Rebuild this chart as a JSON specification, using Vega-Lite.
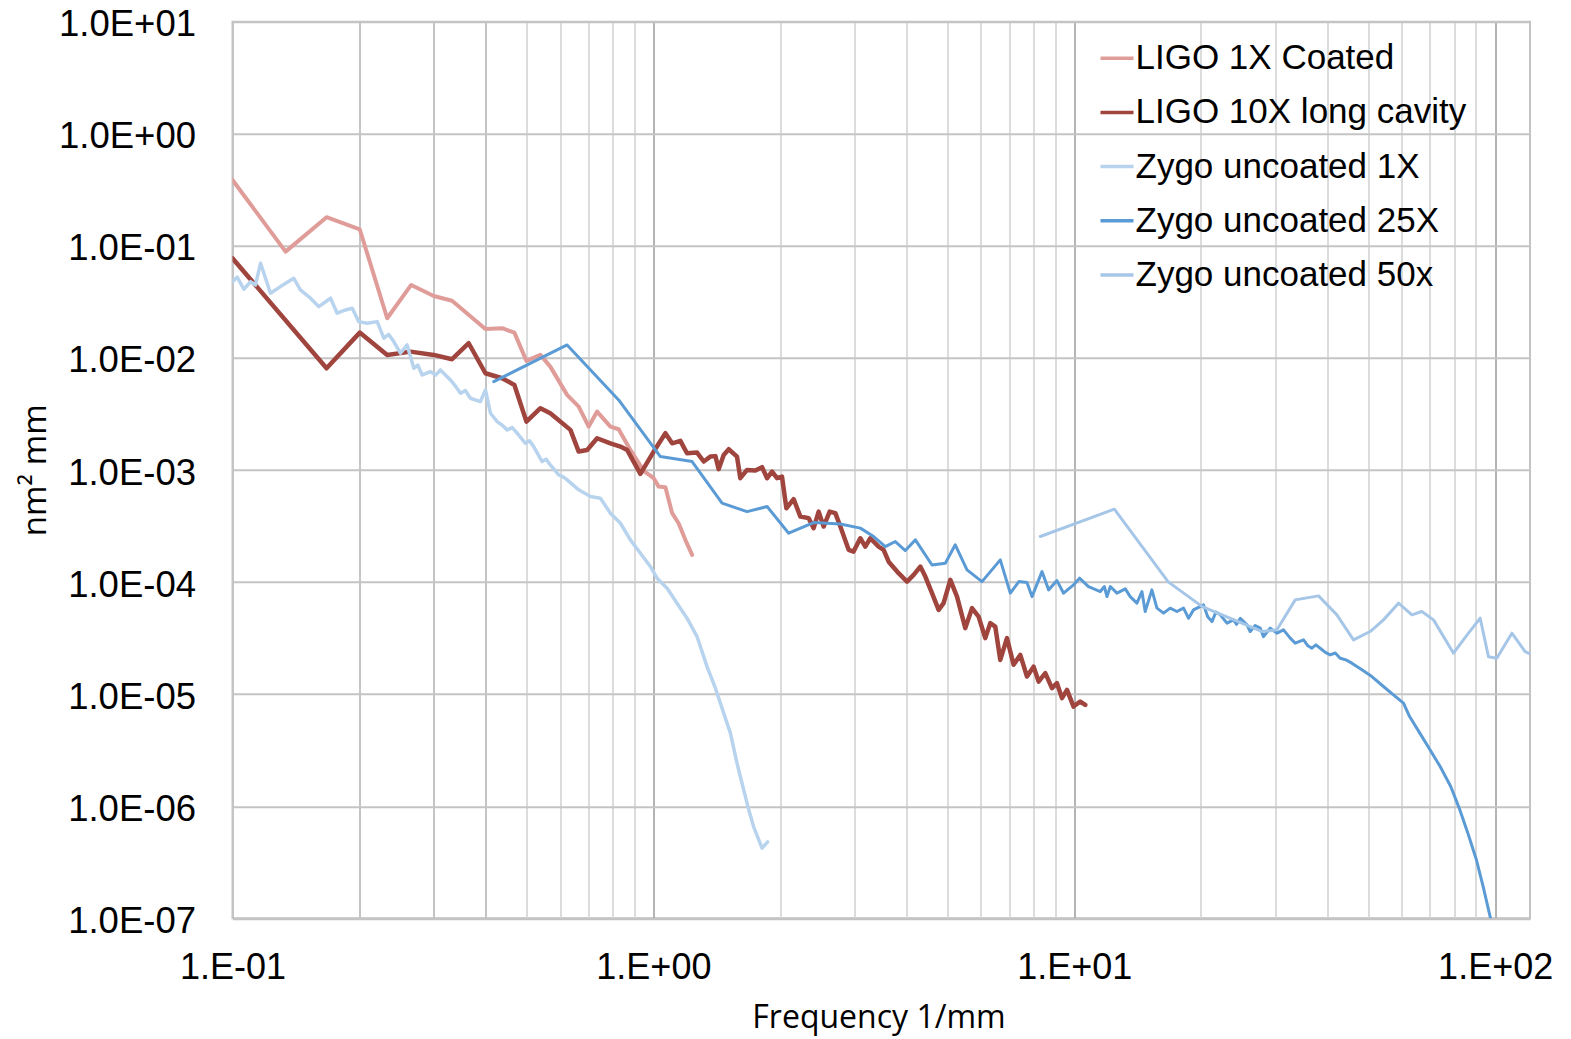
{
  "$schema": "https://vega.github.io/schema/vega-lite/v6.json",
  "width": 1297.5,
  "height": 896.6,
  "autosize": {"type": "none"},
  "padding": {"left": 232.5, "top": 21.7, "right": 41, "bottom": 120.7},
  "background": "white",
  "config": {
    "view": {"stroke": "#c4c4c4", "strokeWidth": 2},
    "font": "Liberation Sans",
    "legend": {
      "orient": "none",
      "legendX": 866,
      "legendY": 18,
      "padding": 0,
      "symbolType": "stroke",
      "symbolSize": 1089,
      "symbolStrokeWidth": 3.5,
      "labelFont": "Liberation Sans",
      "labelFontSize": 35,
      "labelColor": "black",
      "labelOffset": 0,
      "labelLimit": 600,
      "rowPadding": 17.2
    }
  },
  "datasets": {
    "ligo1x": [
      {"x": 0.1, "y": 0.387}, {"x": 0.1337, "y": 0.0888}, {"x": 0.1673, "y": 0.18}, {"x": 0.2006, "y": 0.1406},
      {"x": 0.2331, "y": 0.0226}, {"x": 0.2658, "y": 0.0448}, {"x": 0.3007, "y": 0.0357}, {"x": 0.3324, "y": 0.0324},
      {"x": 0.399, "y": 0.01814}, {"x": 0.4372, "y": 0.01841}, {"x": 0.4675, "y": 0.01682}, {"x": 0.4993, "y": 0.0094},
      {"x": 0.539, "y": 0.01064}, {"x": 0.569, "y": 0.00836}, {"x": 0.6237, "y": 0.00468}, {"x": 0.6646, "y": 0.00368},
      {"x": 0.7021, "y": 0.00244}, {"x": 0.735, "y": 0.00332}, {"x": 0.7904, "y": 0.00244}, {"x": 0.827, "y": 0.00231},
      {"x": 0.8818, "y": 0.00151}, {"x": 0.9483, "y": 0.000982}, {"x": 1.0016, "y": 0.000845}, {"x": 1.0294, "y": 0.000711},
      {"x": 1.068, "y": 0.000703}, {"x": 1.108, "y": 0.000412}, {"x": 1.148, "y": 0.000335}, {"x": 1.191, "y": 0.000238},
      {"x": 1.236, "y": 0.000175}
    ],
    "ligo10x": [
      {"x": 0.1, "y": 0.0775}, {"x": 0.1673, "y": 0.00809}, {"x": 0.2006, "y": 0.01682}, {"x": 0.2331, "y": 0.01064},
      {"x": 0.2648, "y": 0.01138}, {"x": 0.3007, "y": 0.01064}, {"x": 0.3324, "y": 0.00974}, {"x": 0.3641, "y": 0.01352},
      {"x": 0.399, "y": 0.0073}, {"x": 0.4372, "y": 0.00659}, {"x": 0.4675, "y": 0.00574}, {"x": 0.4993, "y": 0.0027},
      {"x": 0.539, "y": 0.00356}, {"x": 0.569, "y": 0.00321}, {"x": 0.6351, "y": 0.00228}, {"x": 0.6646, "y": 0.00146},
      {"x": 0.6961, "y": 0.00151}, {"x": 0.735, "y": 0.00192}, {"x": 0.7904, "y": 0.00173}, {"x": 0.835, "y": 0.00162},
      {"x": 0.866, "y": 0.00151}, {"x": 0.9314, "y": 0.000923}, {"x": 1.0016, "y": 0.00146}, {"x": 1.068, "y": 0.00213},
      {"x": 1.108, "y": 0.00173}, {"x": 1.159, "y": 0.00182}, {"x": 1.202, "y": 0.00141}, {"x": 1.27, "y": 0.00143},
      {"x": 1.317, "y": 0.00119}, {"x": 1.366, "y": 0.001317}, {"x": 1.404, "y": 0.00133}, {"x": 1.429, "y": 0.001017},
      {"x": 1.469, "y": 0.001364}, {"x": 1.51, "y": 0.001533}, {"x": 1.58, "y": 0.001317}, {"x": 1.609, "y": 0.000845},
      {"x": 1.669, "y": 0.001002}, {"x": 1.747, "y": 0.000988}, {"x": 1.812, "y": 0.001059}, {"x": 1.863, "y": 0.000845},
      {"x": 1.914, "y": 0.000968}, {"x": 1.967, "y": 0.000845}, {"x": 2.021, "y": 0.000873}, {"x": 2.07, "y": 0.000456},
      {"x": 2.154, "y": 0.000549}, {"x": 2.235, "y": 0.000384}, {"x": 2.338, "y": 0.000372}, {"x": 2.403, "y": 0.000303},
      {"x": 2.47, "y": 0.000425}, {"x": 2.538, "y": 0.000313}, {"x": 2.623, "y": 0.000425}, {"x": 2.706, "y": 0.000412},
      {"x": 2.781, "y": 0.000313}, {"x": 2.91, "y": 0.000194}, {"x": 2.99, "y": 0.000187}, {"x": 3.102, "y": 0.000246},
      {"x": 3.188, "y": 0.000207}, {"x": 3.276, "y": 0.000246}, {"x": 3.429, "y": 0.000207}, {"x": 3.524, "y": 0.000194},
      {"x": 3.622, "y": 0.000152}, {"x": 3.825, "y": 0.00012}, {"x": 4.005, "y": 0.000101}, {"x": 4.153, "y": 0.000116},
      {"x": 4.307, "y": 0.0001375}, {"x": 4.427, "y": 0.000112}, {"x": 4.592, "y": 7.96e-5}, {"x": 4.761, "y": 5.65e-5},
      {"x": 4.892, "y": 6.48e-5}, {"x": 5.076, "y": 0.0001046}, {"x": 5.265, "y": 7.42e-5}, {"x": 5.509, "y": 3.88e-5},
      {"x": 5.715, "y": 5.85e-5}, {"x": 5.925, "y": 4.92e-5}, {"x": 6.145, "y": 3.16e-5}, {"x": 6.316, "y": 4.3e-5},
      {"x": 6.491, "y": 4.01e-5}, {"x": 6.671, "y": 2.02e-5}, {"x": 6.92, "y": 3.16e-5}, {"x": 7.175, "y": 1.83e-5},
      {"x": 7.442, "y": 2.24e-5}, {"x": 7.72, "y": 1.436e-5}, {"x": 8.005, "y": 1.76e-5}, {"x": 8.227, "y": 1.295e-5},
      {"x": 8.534, "y": 1.54e-5}, {"x": 8.851, "y": 1.13e-5}, {"x": 9.097, "y": 1.253e-5}, {"x": 9.35, "y": 9.21e-6},
      {"x": 9.61, "y": 1.092e-5}, {"x": 9.96, "y": 7.75e-6}, {"x": 10.33, "y": 8.59e-6}, {"x": 10.62, "y": 8.02e-6}
    ],
    "zygo1x": [
      {"x": 0.1, "y": 0.0479}, {"x": 0.1026, "y": 0.0525}, {"x": 0.1064, "y": 0.041}, {"x": 0.1104, "y": 0.0479},
      {"x": 0.1134, "y": 0.0448}, {"x": 0.1166, "y": 0.07}, {"x": 0.1231, "y": 0.0378}, {"x": 0.13, "y": 0.0433},
      {"x": 0.1398, "y": 0.0514}, {"x": 0.145, "y": 0.0404}, {"x": 0.1532, "y": 0.0341}, {"x": 0.1603, "y": 0.0287},
      {"x": 0.171, "y": 0.0341}, {"x": 0.1773, "y": 0.02505}, {"x": 0.1856, "y": 0.0268}, {"x": 0.1925, "y": 0.02776},
      {"x": 0.1995, "y": 0.02108}, {"x": 0.2089, "y": 0.0204}, {"x": 0.2207, "y": 0.02108}, {"x": 0.2288, "y": 0.015},
      {"x": 0.2351, "y": 0.0162}, {"x": 0.2416, "y": 0.01398}, {"x": 0.2506, "y": 0.01101}, {"x": 0.26, "y": 0.01306},
      {"x": 0.2696, "y": 0.00809}, {"x": 0.2756, "y": 0.00862}, {"x": 0.2823, "y": 0.00705}, {"x": 0.2954, "y": 0.00755},
      {"x": 0.3036, "y": 0.00702}, {"x": 0.3119, "y": 0.00781}, {"x": 0.3295, "y": 0.00636}, {"x": 0.3385, "y": 0.00561},
      {"x": 0.3481, "y": 0.00484}, {"x": 0.3575, "y": 0.00512}, {"x": 0.3675, "y": 0.00437}, {"x": 0.3882, "y": 0.00408},
      {"x": 0.399, "y": 0.00518}, {"x": 0.4101, "y": 0.00321}, {"x": 0.4254, "y": 0.0027}, {"x": 0.4374, "y": 0.00251},
      {"x": 0.4494, "y": 0.00228}, {"x": 0.462, "y": 0.00239}, {"x": 0.4745, "y": 0.00213}, {"x": 0.4966, "y": 0.00173},
      {"x": 0.508, "y": 0.00182}, {"x": 0.5196, "y": 0.00162}, {"x": 0.5441, "y": 0.00119}, {"x": 0.556, "y": 0.00125},
      {"x": 0.569, "y": 0.00111}, {"x": 0.5957, "y": 0.000904}, {"x": 0.6094, "y": 0.000872}, {"x": 0.6237, "y": 0.000816},
      {"x": 0.6646, "y": 0.000665}, {"x": 0.7087, "y": 0.000579}, {"x": 0.7484, "y": 0.00056}, {"x": 0.7904, "y": 0.000412},
      {"x": 0.835, "y": 0.000335}, {"x": 0.8818, "y": 0.000238}, {"x": 0.9314, "y": 0.000181}, {"x": 0.9837, "y": 0.0001375},
      {"x": 1.0205, "y": 0.0001083}, {"x": 1.078, "y": 8.82e-5}, {"x": 1.138, "y": 6.48e-5}, {"x": 1.202, "y": 4.76e-5},
      {"x": 1.27, "y": 3.26e-5}, {"x": 1.293, "y": 2.66e-5}, {"x": 1.341, "y": 1.76e-5}, {"x": 1.404, "y": 1.13e-5},
      {"x": 1.469, "y": 6.77e-6}, {"x": 1.524, "y": 4.49e-6}, {"x": 1.58, "y": 2.42e-6}, {"x": 1.639, "y": 1.4e-6},
      {"x": 1.685, "y": 9.29e-7}, {"x": 1.73, "y": 6.59e-7}, {"x": 1.812, "y": 4.23e-7}, {"x": 1.868, "y": 4.81e-7}
    ],
    "zygo25x": [
      {"x": 0.4175, "y": 0.00615}, {"x": 0.6237, "y": 0.01306}, {"x": 0.827, "y": 0.00422}, {"x": 1.039, "y": 0.001317},
      {"x": 1.236, "y": 0.00119}, {"x": 1.456, "y": 0.000506}, {"x": 1.669, "y": 0.000425}, {"x": 1.863, "y": 0.000472},
      {"x": 2.096, "y": 0.000273}, {"x": 2.403, "y": 0.00034}, {"x": 2.781, "y": 0.00033}, {"x": 3.102, "y": 0.000303},
      {"x": 3.337, "y": 0.000255}, {"x": 3.557, "y": 0.000207}, {"x": 3.757, "y": 0.00023}, {"x": 3.968, "y": 0.000191},
      {"x": 4.193, "y": 0.000238}, {"x": 4.592, "y": 0.000142}, {"x": 4.939, "y": 0.0001474}, {"x": 5.215, "y": 0.000215},
      {"x": 5.561, "y": 0.0001285}, {"x": 6.036, "y": 0.000101}, {"x": 6.671, "y": 0.0001578}, {"x": 7.047, "y": 7.96e-5},
      {"x": 7.386, "y": 0.000101}, {"x": 7.72, "y": 9.9e-5}, {"x": 7.935, "y": 7.42e-5}, {"x": 8.382, "y": 0.000124},
      {"x": 8.69, "y": 8.52e-5}, {"x": 9.097, "y": 0.0001031}, {"x": 9.432, "y": 7.96e-5}, {"x": 9.96, "y": 9.44e-5},
      {"x": 10.29, "y": 0.0001083}, {"x": 10.81, "y": 9.12e-5}, {"x": 11.53, "y": 8.23e-5}, {"x": 11.79, "y": 9.12e-5},
      {"x": 11.96, "y": 7.42e-5}, {"x": 12.18, "y": 9.12e-5}, {"x": 12.63, "y": 7.96e-5}, {"x": 13.22, "y": 8.7e-5},
      {"x": 13.58, "y": 7.42e-5}, {"x": 14.09, "y": 6.48e-5}, {"x": 14.48, "y": 8.23e-5}, {"x": 14.74, "y": 5.46e-5},
      {"x": 15.29, "y": 8.52e-5}, {"x": 15.72, "y": 5.85e-5}, {"x": 16.3, "y": 5.28e-5}, {"x": 16.9, "y": 5.85e-5},
      {"x": 17.53, "y": 5.46e-5}, {"x": 18.18, "y": 5.85e-5}, {"x": 18.69, "y": 4.76e-5}, {"x": 19.2, "y": 5.65e-5},
      {"x": 20.28, "y": 6.26e-5}, {"x": 20.75, "y": 4.9e-5}, {"x": 21.24, "y": 4.44e-5}, {"x": 21.7, "y": 5.4e-5},
      {"x": 22.23, "y": 5.1e-5}, {"x": 23.06, "y": 4.3e-5}, {"x": 23.9, "y": 4.6e-5}, {"x": 24.3, "y": 4.2e-5},
      {"x": 24.8, "y": 4.76e-5}, {"x": 25.72, "y": 4.15e-5}, {"x": 26.18, "y": 3.62e-5}, {"x": 26.9, "y": 4.1e-5},
      {"x": 27.66, "y": 3.88e-5}, {"x": 28.16, "y": 3.26e-5}, {"x": 29.21, "y": 3.88e-5}, {"x": 30.3, "y": 3.5e-5},
      {"x": 31.42, "y": 3.75e-5}, {"x": 32.59, "y": 3.16e-5}, {"x": 33.49, "y": 2.85e-5}, {"x": 35.05, "y": 3.05e-5},
      {"x": 35.9, "y": 2.7e-5}, {"x": 36.69, "y": 2.57e-5}, {"x": 37.5, "y": 2.75e-5}, {"x": 38.4, "y": 2.57e-5},
      {"x": 39.5, "y": 2.36e-5}, {"x": 40.56, "y": 2.24e-5}, {"x": 41.7, "y": 2.33e-5}, {"x": 42.83, "y": 2.09e-5},
      {"x": 44.2, "y": 2.02e-5}, {"x": 45.66, "y": 1.89e-5}, {"x": 48.24, "y": 1.65e-5}, {"x": 50.94, "y": 1.436e-5},
      {"x": 54.28, "y": 1.17e-5}, {"x": 57.33, "y": 9.86e-6}, {"x": 60.56, "y": 8.31e-6}, {"x": 62.62, "y": 6.31e-6},
      {"x": 66.23, "y": 4.49e-6}, {"x": 70.07, "y": 3.18e-6}, {"x": 74.02, "y": 2.26e-6}, {"x": 78.42, "y": 1.5e-6},
      {"x": 82.14, "y": 9.62e-7}, {"x": 86.13, "y": 5.75e-7}, {"x": 90.24, "y": 3.33e-7}, {"x": 93.65, "y": 1.92e-7},
      {"x": 97.5, "y": 1.0e-7}
    ],
    "zygo50x": [
      {"x": 8.303, "y": 0.000255}, {"x": 12.45, "y": 0.000447}, {"x": 16.72, "y": 0.0001004}, {"x": 20.14, "y": 6.04e-5},
      {"x": 27.97, "y": 3.62e-5}, {"x": 30.3, "y": 3.75e-5}, {"x": 33.49, "y": 6.94e-5}, {"x": 38.05, "y": 7.53e-5},
      {"x": 42.07, "y": 5.1e-5}, {"x": 46.07, "y": 3.05e-5}, {"x": 50.47, "y": 3.62e-5}, {"x": 54.28, "y": 4.6e-5},
      {"x": 58.93, "y": 6.48e-5}, {"x": 63.41, "y": 5.1e-5}, {"x": 66.96, "y": 5.46e-5}, {"x": 71.38, "y": 4.6e-5},
      {"x": 79.62, "y": 2.32e-5}, {"x": 86.41, "y": 3.5e-5}, {"x": 92.13, "y": 4.76e-5}, {"x": 96.4, "y": 2.16e-5},
      {"x": 100.9, "y": 2.09e-5}, {"x": 109.6, "y": 3.5e-5}, {"x": 117.8, "y": 2.4e-5}, {"x": 121, "y": 2.29e-5}
    ]
  },
  "encoding": {
    "x": {
      "field": "x",
      "type": "quantitative",
      "scale": {"type": "log", "domain": [0.1, 121], "nice": false},
      "axis": {
        "values": [0.1, 0.2, 0.3, 0.4, 0.5, 0.6, 0.7, 0.8, 0.9, 1, 2, 3, 4, 5, 6, 7, 8, 9, 10, 20, 30, 40, 50, 60, 70, 80, 90, 100],
        "labelExpr": "abs(log(datum.value)/LN10 - round(log(datum.value)/LN10)) < 0.001 ? '1.E' + (datum.value >= 1 ? '+' : '-') + '0' + abs(round(log(datum.value)/LN10)) : ''",
        "labelFont": "Liberation Sans",
        "labelFontSize": 36,
        "labelColor": "black",
        "labelPadding": 32,
        "labelOverlap": false,
        "labelFlush": false,
        "labelBound": false,
        "ticks": false,
        "domain": true,
        "domainColor": "#c4c4c4",
        "domainWidth": 2,
        "grid": true,
        "gridColor": {
          "condition": [
            {"test": "datum.value < 0.5", "value": "#c4c4c4"},
            {"test": "abs(log(datum.value)/LN10 - round(log(datum.value)/LN10)) < 0.001", "value": "#8c8c8c"}
          ],
          "value": "#dcdcdc"
        },
        "gridWidth": {
          "condition": {"test": "datum.value > 0.5 && abs(log(datum.value)/LN10 - round(log(datum.value)/LN10)) < 0.001", "value": 1.3},
          "value": 2
        },
        "title": "Frequency 1/mm",
        "titleFont": "Open Sans",
        "titleFontSize": 32,
        "titleFontWeight": "normal",
        "titleColor": "black",
        "titleX": 646,
        "titleY": 109,
        "titleBaseline": "alphabetic",
        "titleAlign": "center"
      }
    },
    "y": {
      "field": "y",
      "type": "quantitative",
      "scale": {"type": "log", "domain": [1e-7, 10], "nice": false},
      "axis": {
        "values": [1e-7, 1e-6, 1e-5, 1e-4, 1e-3, 0.01, 0.1, 1, 10],
        "labelExpr": "'1.0E' + (datum.value >= 1 ? '+' : '-') + '0' + abs(round(log(datum.value)/LN10))",
        "labelFont": "Liberation Sans",
        "labelFontSize": 36.5,
        "labelColor": "black",
        "labelPadding": 37,
        "labelOffset": 3,
        "labelOverlap": false,
        "labelFlush": false,
        "labelBound": false,
        "labelBaseline": "middle",
        "ticks": false,
        "domain": true,
        "domainColor": "#c4c4c4",
        "domainWidth": 2,
        "grid": true,
        "gridColor": "#c4c4c4",
        "gridWidth": 2,
        "title": "nm² mm",
        "titleFont": "Open Sans",
        "titleFontSize": 33,
        "titleFontWeight": "normal",
        "titleColor": "black",
        "titleAngle": -90,
        "titleX": -187,
        "titleY": 448,
        "titleBaseline": "alphabetic",
        "titleAlign": "center"
      }
    }
  },
  "layer": [
    {
      "data": {"name": "ligo1x"},
      "mark": {"type": "line", "strokeWidth": 4, "strokeJoin": "round", "strokeCap": "round", "clip": true},
      "encoding": {
        "color": {"datum": "LIGO 1X Coated", "type": "nominal",
          "scale": {"domain": ["LIGO 1X Coated", "LIGO 10X long cavity", "Zygo uncoated 1X", "Zygo uncoated 25X", "Zygo uncoated 50x"],
                    "range": ["#E09C98", "#A0443E", "#B8D3EE", "#5B9BD5", "#A6C6E8"]},
          "legend": {"title": null}}
      }
    },
    {
      "data": {"name": "ligo10x"},
      "mark": {"type": "line", "strokeWidth": 4.5, "strokeJoin": "round", "strokeCap": "round", "clip": true},
      "encoding": {
        "color": {"datum": "LIGO 10X long cavity", "type": "nominal",
          "scale": {"domain": ["LIGO 1X Coated", "LIGO 10X long cavity", "Zygo uncoated 1X", "Zygo uncoated 25X", "Zygo uncoated 50x"],
                    "range": ["#E09C98", "#A0443E", "#B8D3EE", "#5B9BD5", "#A6C6E8"]},
          "legend": {"title": null}}
      }
    },
    {
      "data": {"name": "zygo1x"},
      "mark": {"type": "line", "strokeWidth": 3.5, "strokeJoin": "round", "strokeCap": "round", "clip": true},
      "encoding": {
        "color": {"datum": "Zygo uncoated 1X", "type": "nominal",
          "scale": {"domain": ["LIGO 1X Coated", "LIGO 10X long cavity", "Zygo uncoated 1X", "Zygo uncoated 25X", "Zygo uncoated 50x"],
                    "range": ["#E09C98", "#A0443E", "#B8D3EE", "#5B9BD5", "#A6C6E8"]},
          "legend": {"title": null}}
      }
    },
    {
      "data": {"name": "zygo25x"},
      "mark": {"type": "line", "strokeWidth": 3, "strokeJoin": "round", "strokeCap": "round", "clip": true},
      "encoding": {
        "color": {"datum": "Zygo uncoated 25X", "type": "nominal",
          "scale": {"domain": ["LIGO 1X Coated", "LIGO 10X long cavity", "Zygo uncoated 1X", "Zygo uncoated 25X", "Zygo uncoated 50x"],
                    "range": ["#E09C98", "#A0443E", "#B8D3EE", "#5B9BD5", "#A6C6E8"]},
          "legend": {"title": null}}
      }
    },
    {
      "data": {"name": "zygo50x"},
      "mark": {"type": "line", "strokeWidth": 3, "strokeJoin": "round", "strokeCap": "round", "clip": true},
      "encoding": {
        "color": {"datum": "Zygo uncoated 50x", "type": "nominal",
          "scale": {"domain": ["LIGO 1X Coated", "LIGO 10X long cavity", "Zygo uncoated 1X", "Zygo uncoated 25X", "Zygo uncoated 50x"],
                    "range": ["#E09C98", "#A0443E", "#B8D3EE", "#5B9BD5", "#A6C6E8"]},
          "legend": {"title": null}}
      }
    }
  ]
}
